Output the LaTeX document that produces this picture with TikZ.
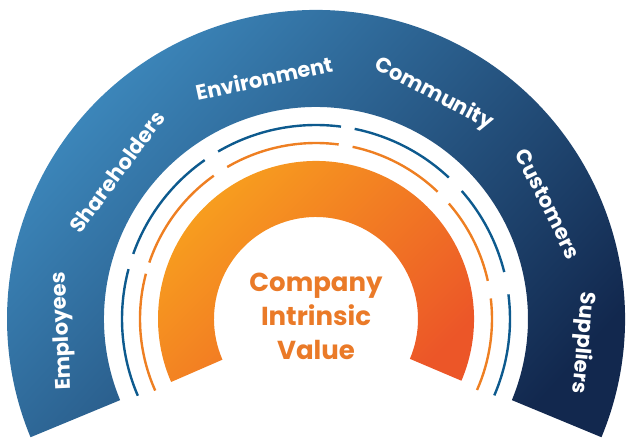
\documentclass[tikz,border=0pt]{standalone}
\usepackage{fontspec}
\setmainfont{Poppins}
\definecolor{blA}{HTML}{3F8DC2}
\definecolor{blB}{HTML}{08528A}
\definecolor{blC}{HTML}{12284E}
\definecolor{orA}{HTML}{F8A31E}
\definecolor{orB}{HTML}{F0822A}
\definecolor{orC}{HTML}{EC5628}
\definecolor{thinblue}{HTML}{0D5A8E}
\definecolor{thinorange}{HTML}{EE7F22}
\definecolor{txtorange}{HTML}{EA7A28}
\tikzset{
  lbl/.style={text=white, font=\bfseries\fontsize{21}{24}\selectfont, inner sep=0pt},
  bthin/.style={draw=thinblue, line width=2.4pt},
  othin/.style={draw=thinorange, line width=2.4pt},
}
\begin{document}
\begin{tikzpicture}[x=1pt,y=1pt]
\useasboundingbox (0,0) rectangle (630,441);
\begin{scope}[shift={(316,122)}]
  % outer blue band
  \shade[top color=blA, middle color=blB, bottom color=blC, shading angle=48]
    (-22.5:309) arc[start angle=-22.5, end angle=202.5, radius=309]
    -- (202.5:212) arc[start angle=202.5, end angle=-22.5, radius=212] -- cycle;
  % orange band
  \shade[top color=orA, middle color=orB, bottom color=orC, shading angle=45]
    (-23:158) arc[start angle=-23, end angle=203.5, radius=158]
    -- (203.5:102) arc[start angle=203.5, end angle=-23, radius=102] -- cycle;
  % thin blue segments
  \foreach \a/\b in {-23.2/7.3, 14.0/41.3, 46.8/78.5, 82.6/120.3, 125.0/160.4, 165.1/203.3}
    \draw[bthin] (\a:194) arc[start angle=\a, end angle=\b, radius=194];
  % thin orange segments
  \foreach \a/\b in {-23.8/6.7, 12.5/41.0, 46.3/78.0, 82.6/120.3, 125.5/161.3, 165.1/204.0}
    \draw[othin] (\a:176) arc[start angle=\a, end angle=\b, radius=176];
  % labels
  \node[lbl, rotate=92.7] (emp) at (-253,-12) {Employees};
  \node[lbl, rotate=53.7] (sha) at (-199,147) {Shareholders};
  \node[lbl, rotate=12.2] (env) at (-52,241) {Environment};
  \node[lbl, rotate=-27.7] (com) at (118,225) {Community};
  \node[lbl, rotate=-63.6] (cus) at (232,115) {Customers};
  \node[lbl, rotate=-95.1] (sup) at (267,-24) {Suppliers};
  % center
  \node[text=txtorange, font=\bfseries\fontsize{26}{34}\selectfont, align=center, inner sep=0pt] (civ) at (0,3) {Company\\Intrinsic\\Value};
\end{scope}
\end{tikzpicture}
\end{document}
